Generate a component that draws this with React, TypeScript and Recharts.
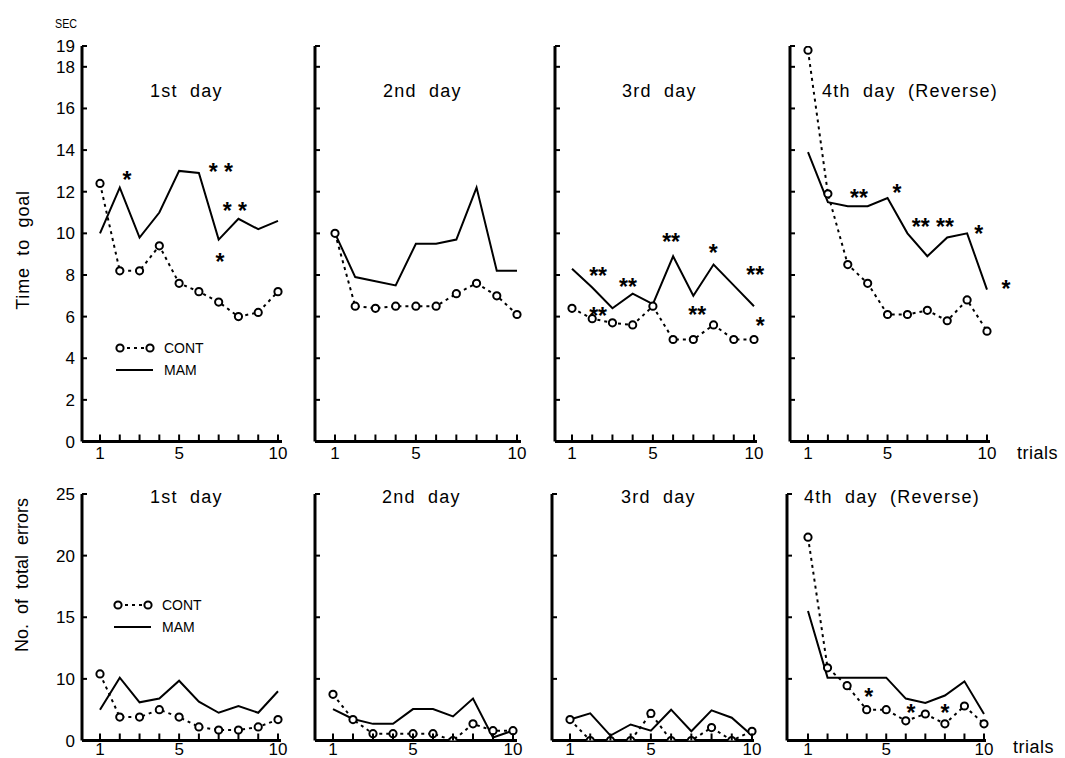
import React from "react";
import { LineChart, Line, XAxis, YAxis, ReferenceDot } from "recharts";

const FONT = '"Liberation Sans", Arial, sans-serif';

const trials = [1, 2, 3, 4, 5, 6, 7, 8, 9, 10];
const labelledTrials = [1, 5, 10];

const timeTicks = [0, 2, 4, 6, 8, 10, 12, 14, 16, 18, 19];
const errTickValues = [0, 10, 15, 20, 25];

const dayTitles = ["1st  day", "2nd  day", "3rd  day", "4th  day  (Reverse)"];

// Time to goal (sec)
const timeCont1 = [12.4, 8.2, 8.2, 9.4, 7.6, 7.2, 6.7, 6.0, 6.2, 7.2];
const timeMam1 = [10.0, 12.2, 9.8, 11.0, 13.0, 12.9, 9.7, 10.7, 10.2, 10.6];
const timeCont2 = [10.0, 6.5, 6.4, 6.5, 6.5, 6.5, 7.1, 7.6, 7.0, 6.1];
const timeMam2 = [10.0, 7.9, 7.7, 7.5, 9.5, 9.5, 9.7, 12.2, 8.2, 8.2];
const timeCont3 = [6.4, 5.9, 5.7, 5.6, 6.5, 4.9, 4.9, 5.6, 4.9, 4.9];
const timeMam3 = [8.3, 7.4, 6.4, 7.1, 6.6, 8.9, 7.0, 8.5, 7.5, 6.5];
const timeCont4 = [18.8, 11.9, 8.5, 7.6, 6.1, 6.1, 6.3, 5.8, 6.8, 5.3];
const timeMam4 = [13.9, 11.5, 11.3, 11.3, 11.7, 10.0, 8.9, 9.8, 10.0, 7.3];

// No. of total errors
const errCont1 = [10.4, 3.8, 3.8, 5.0, 3.8, 2.2, 1.7, 1.7, 2.2, 3.4];
const errMam1 = [5.0, 10.1, 6.2, 6.8, 9.7, 6.3, 4.5, 5.6, 4.5, 8.0];
const errCont2 = [7.5, 3.4, 1.1, 1.1, 1.1, 1.1, 0, 2.7, 1.6, 1.6];
const errMam2 = [5.1, 3.5, 2.7, 2.7, 5.1, 5.1, 3.9, 6.8, 0.5, 1.6];
const errCont3 = [3.4, 0, 0, 0, 4.4, 0, 0, 2.1, 0, 1.5];
const errMam3 = [3.4, 4.4, 0.8, 2.6, 1.6, 5.0, 1.5, 4.9, 3.7, 0.8];
const errCont4 = [21.5, 10.9, 8.9, 5.0, 5.0, 3.2, 4.3, 2.7, 5.6, 2.7];
const errMam4 = [15.5, 10.1, 10.1, 10.1, 10.1, 6.8, 6.1, 7.3, 9.6, 4.3];

type Star = { trial: number; value: number; text: string };

const timeStars1: Star[] = [
  { trial: 2.36, value: 12.8, text: "*" },
  { trial: 7.11, value: 13.2, text: "* *" },
  { trial: 7.82, value: 11.3, text: "* *" },
  { trial: 7.06, value: 8.85, text: "*" },
];
const timeStars3: Star[] = [
  { trial: 2.29, value: 8.18, text: "**" },
  { trial: 3.77, value: 7.65, text: "**" },
  { trial: 5.9, value: 9.81, text: "**" },
  { trial: 7.98, value: 9.29, text: "*" },
  { trial: 10.06, value: 8.23, text: "**" },
  { trial: 2.29, value: 6.26, text: "**" },
  { trial: 7.19, value: 6.31, text: "**" },
  { trial: 10.31, value: 5.78, text: "*" },
];
const timeStars4: Star[] = [
  { trial: 3.56, value: 11.93, text: "**" },
  { trial: 5.47, value: 12.17, text: "*" },
  { trial: 7.28, value: 10.55, text: "** **" },
  { trial: 9.59, value: 10.22, text: "*" },
  { trial: 10.95, value: 7.56, text: "*" },
];
const errStars4: Star[] = [
  { trial: 4.11, value: 7.9, text: "*" },
  { trial: 6.26, value: 5.2, text: "*" },
  { trial: 8.0, value: 5.2, text: "*" },
];

// the error axis has evenly spaced ticks at 0,10,15,20,25
const errSlot = (v: number) => {
  const n = errTickValues.length;
  for (let i = 0; i < n - 1; i++) {
    const a = errTickValues[i];
    const b = errTickValues[i + 1];
    if (v <= b || i === n - 2) return i + (v - a) / (b - a);
  }
  return 0;
};

type Col = { axisX: number; x1: number; x10: number; right: number };
type Row = { plotTop: number; plotBottom: number; xLabelDy: number };

const topRow: Row = { plotTop: 46, plotBottom: 441.5, xLabelDy: 17.5 };
const bottomRow: Row = { plotTop: 493.5, plotBottom: 740, xLabelDy: 14 };
const topCols: Col[] = [
  { axisX: 82, x1: 100, x10: 278, right: 282 },
  { axisX: 315, x1: 335, x10: 517, right: 521 },
  { axisX: 555, x1: 572, x10: 754, right: 757 },
  { axisX: 790, x1: 808, x10: 987, right: 990 },
];
const bottomCols: Col[] = [
  { axisX: 82, x1: 100, x10: 278, right: 281 },
  { axisX: 315, x1: 333, x10: 513, right: 517 },
  { axisX: 552, x1: 570, x10: 752, right: 754 },
  { axisX: 787, x1: 808, x10: 984, right: 986 },
];

const openDot = (p: any) => (
  <circle
    key={`dot-${p.index}`}
    cx={p.cx}
    cy={p.cy}
    r={3.6}
    fill="#fff"
    stroke="#000"
    strokeWidth={2}
  />
);

const starShape = (text: string) => (p: any) => (
  <text
    x={p.cx}
    y={p.cy + 13}
    textAnchor="middle"
    fontSize={23}
    fontWeight="bold"
    fontFamily={FONT}
    fill="#000"
    style={{ whiteSpace: "pre" }}
  >
    {text}
  </text>
);

type PanelProps = {
  col: Col;
  row: Row;
  data: { trial: number; cont: number; mam: number }[];
  yDomain: [number, number];
  yTicks: number[];
  yFormat: (v: number) => string;
  showY: boolean;
  stars: Star[];
};

const Y_GAP = 7;

function Panel({ col, row, data, yDomain, yTicks, yFormat, showY, stars }: PanelProps) {
  const YW = 70;
  const MT = 12;
  const MR = 40;
  const XH = 32;
  const w = YW + (col.right - col.axisX) + MR;
  const h = MT + (row.plotBottom - row.plotTop) + XH;

  const xTick = (p: any) => {
    const v = p.payload.value;
    return (
      <g>
        <line x1={p.x} x2={p.x} y1={p.y} y2={p.y - 7} stroke="#000" strokeWidth={2} />
        {labelledTrials.includes(v) && (
          <text x={p.x} y={p.y + row.xLabelDy} textAnchor="middle" fontSize={17} fontFamily={FONT} fill="#000">
            {v}
          </text>
        )}
      </g>
    );
  };

  const yTick = (p: any) => (
    <g>
      <line x1={p.x + Y_GAP} x2={p.x + Y_GAP + 5} y1={p.y} y2={p.y} stroke="#000" strokeWidth={2} />
      {showY && (
        <text x={p.x} y={p.y + 6} textAnchor="end" fontSize={17} fontFamily={FONT} fill="#000">
          {yFormat(p.payload.value)}
        </text>
      )}
    </g>
  );

  return (
    <div style={{ position: "absolute", left: col.axisX - YW, top: row.plotTop - MT }}>
      <LineChart width={w} height={h} data={data} margin={{ top: MT, right: MR, left: 0, bottom: 0 }}>
        <XAxis
          dataKey="trial"
          type="number"
          domain={[1, 10]}
          ticks={trials}
          interval={0}
          height={XH}
          padding={{ left: col.x1 - col.axisX, right: col.right - col.x10 }}
          axisLine={{ stroke: "#000", strokeWidth: 3 }}
          tickLine={false}
          tickSize={0}
          tickMargin={0}
          tick={xTick}
        />
        <YAxis
          type="number"
          domain={yDomain}
          ticks={yTicks}
          interval={0}
          width={YW}
          allowDataOverflow
          axisLine={{ stroke: "#000", strokeWidth: 3 }}
          tickLine={false}
          tickSize={0}
          tickMargin={Y_GAP}
          tick={yTick}
        />
        <Line
          type="linear"
          dataKey="mam"
          stroke="#000"
          strokeWidth={2}
          dot={false}
          activeDot={false}
          isAnimationActive={false}
        />
        <Line
          type="linear"
          dataKey="cont"
          stroke="#000"
          strokeWidth={2}
          strokeDasharray="3 4"
          dot={openDot}
          activeDot={false}
          isAnimationActive={false}
        />
        {stars.map((s, i) => (
          <ReferenceDot
            key={i}
            x={s.trial}
            y={s.value}
            r={1}
            ifOverflow="visible"
            shape={starShape(s.text)}
          />
        ))}
      </LineChart>
    </div>
  );
}

const buildTime = (cont: number[], mam: number[]) =>
  trials.map((t, i) => ({ trial: t, cont: cont[i], mam: mam[i] }));
const buildErr = (cont: number[], mam: number[]) =>
  trials.map((t, i) => ({ trial: t, cont: errSlot(cont[i]), mam: errSlot(mam[i]) }));

const LegendBlock = ({ x, y }: { x: number; y: number }) => (
  <g fontFamily={FONT} fontSize={14} fill="#000">
    <line x1={x} y1={y} x2={x + 30} y2={y} stroke="#000" strokeWidth={2} strokeDasharray="3 4" />
    <circle cx={x} cy={y} r={3.6} fill="#fff" stroke="#000" strokeWidth={2} />
    <circle cx={x + 30} cy={y} r={3.6} fill="#fff" stroke="#000" strokeWidth={2} />
    <text x={x + 44} y={y + 5}>CONT</text>
    <line x1={x - 4} y1={y + 22} x2={x + 33} y2={y + 22} stroke="#000" strokeWidth={2} />
    <text x={x + 44} y={y + 27}>MAM</text>
  </g>
);

const pre = { whiteSpace: "pre" } as const;

export default function App() {
  const timeSets = [
    buildTime(timeCont1, timeMam1),
    buildTime(timeCont2, timeMam2),
    buildTime(timeCont3, timeMam3),
    buildTime(timeCont4, timeMam4),
  ];
  const errSets = [
    buildErr(errCont1, errMam1),
    buildErr(errCont2, errMam2),
    buildErr(errCont3, errMam3),
    buildErr(errCont4, errMam4),
  ];
  const timeStars = [timeStars1, [], timeStars3, timeStars4];
  const errStars = [[], [], [], errStars4.map((s) => ({ ...s, value: errSlot(s.value) }))];
  const topTitleX = [150, 383, 622, 822];
  const bottomTitleX = [150, 382, 621, 804];

  return (
    <div style={{ position: "absolute", left: 0, top: 0, width: 1065, height: 758, background: "#fff" }}>
      {timeSets.map((d, i) => (
        <Panel
          key={`t${i}`}
          col={topCols[i]}
          row={topRow}
          data={d}
          yDomain={[0, 19]}
          yTicks={timeTicks}
          yFormat={(v) => String(v)}
          showY={i === 0}
          stars={timeStars[i]}
        />
      ))}
      {errSets.map((d, i) => (
        <Panel
          key={`e${i}`}
          col={bottomCols[i]}
          row={bottomRow}
          data={d}
          yDomain={[0, errTickValues.length - 1]}
          yTicks={errTickValues.map((_, k) => k)}
          yFormat={(v) => String(errTickValues[v] ?? "")}
          showY={i === 0}
          stars={errStars[i]}
        />
      ))}
      <svg
        width={1065}
        height={758}
        style={{ position: "absolute", left: 0, top: 0, pointerEvents: "none" }}
        fontFamily={FONT}
        fill="#000"
      >
        <text x={55} y={28} fontSize={13} textLength={22} lengthAdjust="spacingAndGlyphs">
          SEC
        </text>
        <text transform="translate(29,250) rotate(-90)" textAnchor="middle" fontSize={18} letterSpacing={0.8} style={pre}>
          Time  to  goal
        </text>
        <text transform="translate(28,575) rotate(-90)" textAnchor="middle" fontSize={18} style={pre}>
          No.  of  total  errors
        </text>
        {dayTitles.map((t, i) => (
          <text key={`tt${i}`} x={topTitleX[i]} y={97} fontSize={18} letterSpacing={1.2} style={pre}>
            {t}
          </text>
        ))}
        {dayTitles.map((t, i) => (
          <text key={`bt${i}`} x={bottomTitleX[i]} y={503} fontSize={18} letterSpacing={1.2} style={pre}>
            {t}
          </text>
        ))}
        <text x={1017} y={459} fontSize={18} letterSpacing={0.5}>
          trials
        </text>
        <text x={1013} y={753} fontSize={18} letterSpacing={0.5}>
          trials
        </text>
        <LegendBlock x={120} y={348} />
        <LegendBlock x={118} y={605} />
      </svg>
    </div>
  );
}
